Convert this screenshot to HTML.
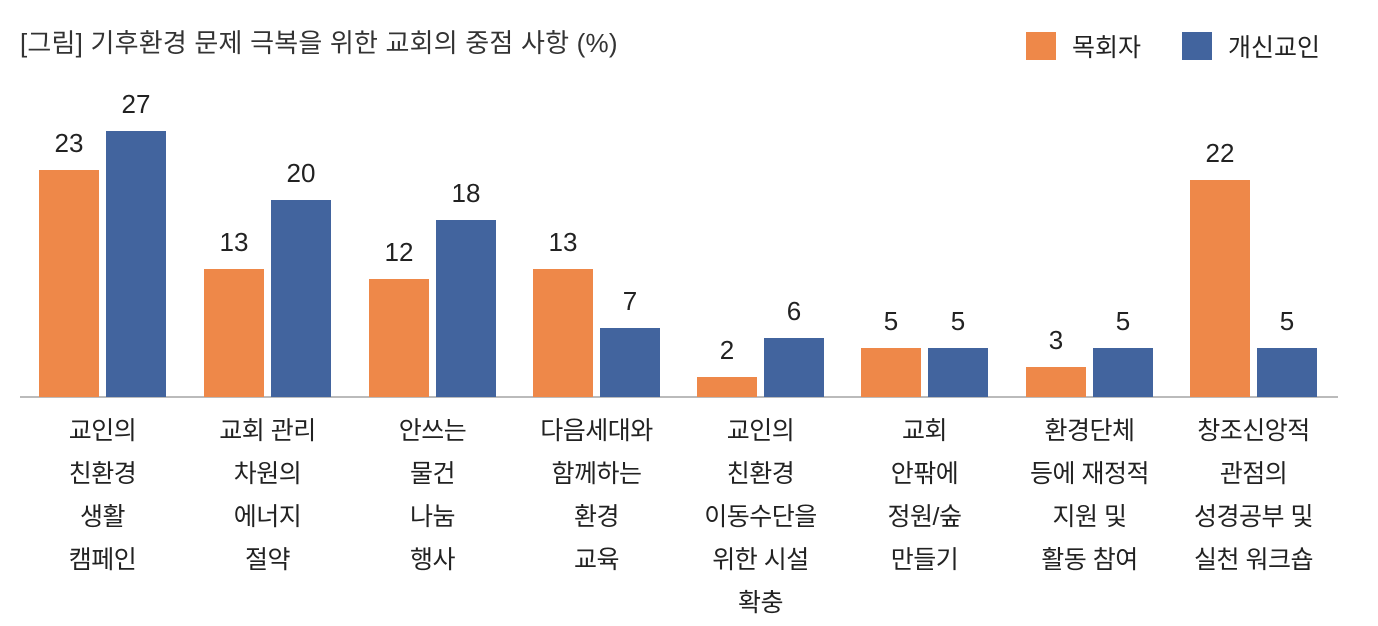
<!DOCTYPE html>
<html><head><meta charset="utf-8"><style>
body{margin:0;width:1378px;height:626px;background:#fff;overflow:hidden;font-family:"Liberation Sans","Noto Sans CJK KR",sans-serif;color:#222}
.a{position:absolute}
.bar{position:absolute;width:60px}
.o{background:#EE8849}.b{background:#42649E}
.v{position:absolute;width:80px;text-align:center;font-size:26px;line-height:26px}
.lab{position:absolute;width:200px;text-align:center;font-size:25px;line-height:43px;top:410px;letter-spacing:-0.5px}
</style></head><body>
<div class="a" style="left:20px;top:23px;font-size:26px;color:#333;letter-spacing:0.2px">[그림] 기후환경 문제 극복을 위한 교회의 중점 사항 (%)</div>
<div class="a o" style="left:1026px;top:32px;width:30px;height:28px"></div>
<div class="a" style="left:1072px;top:28px;font-size:25px">목회자</div>
<div class="a b" style="left:1182px;top:32px;width:30px;height:28px"></div>
<div class="a" style="left:1228px;top:28px;font-size:25px">개신교인</div>
<div class="a" style="left:20px;top:396px;width:1318px;height:2px;background:#bbb"></div>
<div id="c"></div>
<script>
var o=[23,13,12,13,2,5,3,22],b=[27,20,18,7,6,5,5,5];
var X=[39,204,369,533,697,861,1026,1190];
var L=["교인의<br>친환경<br>생활<br>캠페인","교회 관리<br>차원의<br>에너지<br>절약","안쓰는<br>물건<br>나눔<br>행사","다음세대와<br>함께하는<br>환경<br>교육","교인의<br>친환경<br>이동수단을<br>위한 시설<br>확충","교회<br>안팎에<br>정원/숲<br>만들기","환경단체<br>등에 재정적<br>지원 및<br>활동 참여","창조신앙적<br>관점의<br>성경공부 및<br>실천 워크숍"];
var h="",k=9.85,base=397;
for(var i=0;i<8;i++){var x=X[i];
[[o[i],x,"o"],[b[i],x+67,"b"]].forEach(function(d){var t=base-d[0]*k;
h+='<div class="bar '+d[2]+'" style="left:'+d[1]+'px;top:'+t+'px;height:'+(base-t)+'px"></div>';
h+='<div class="v" style="left:'+(d[1]-10)+'px;top:'+(t-40)+'px">'+d[0]+'</div>';});
h+='<div class="lab" style="left:'+(x-36.5)+'px">'+L[i]+'</div>';}
document.getElementById("c").innerHTML=h;
</script>
</body></html>
